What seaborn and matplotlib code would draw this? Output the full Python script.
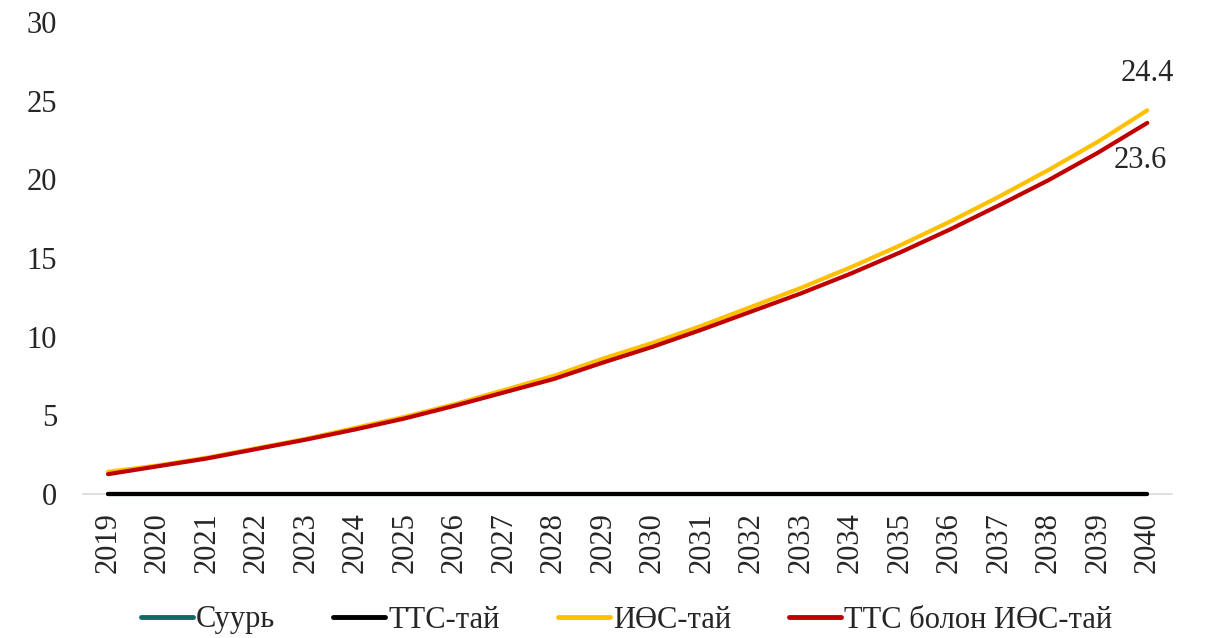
import numpy as np
import pandas as pd
import matplotlib
matplotlib.use("Agg")
import matplotlib.pyplot as plt
import seaborn as sns

years = [str(y) for y in range(2019, 2041)]
suuri = [0.0] * 22
tts = [0.0] * 22
ios = [1.4, 1.8, 2.3, 2.9, 3.5, 4.2, 4.9, 5.7, 6.6, 7.5, 8.6, 9.6,
       10.7, 11.9, 13.1, 14.4, 15.8, 17.3, 18.9, 20.6, 22.4, 24.4]
tts_ios = [1.25, 1.75, 2.25, 2.85, 3.45, 4.1, 4.8, 5.6, 6.45, 7.3, 8.35, 9.35,
           10.45, 11.6, 12.75, 14.0, 15.35, 16.8, 18.35, 19.95, 21.7, 23.6]

series = ["Суурь", "ТТС-тай", "ИӨС-тай", "ТТС болон ИӨС-тай"]
colors = ["#0F6B63", "#000000", "#FFC000", "#C00000"]

df = pd.DataFrame({"year": years, "Суурь": suuri, "ТТС-тай": tts,
                   "ИӨС-тай": ios, "ТТС болон ИӨС-тай": tts_ios})
long = df.melt(id_vars="year", var_name="series", value_name="value")
long["x"] = long["year"].map({y: i for i, y in enumerate(years)})

sns.set_style("white")
plt.rcParams["font.family"] = ["Liberation Serif", "DejaVu Serif"]

fig, ax = plt.subplots(figsize=(12.07, 6.38), dpi=100)
sns.lineplot(data=long, x="x", y="value", hue="series", hue_order=series,
             palette=colors, linewidth=3, ax=ax, legend=False)
for ln in ax.lines:
    ln.set_clip_on(False)
    ln.set_solid_capstyle("round")

ax.set_xlim(-0.5, len(years) - 0.5)
ax.set_ylim(0, 30)
ax.set_xticks(range(len(years)))
ax.set_xticklabels(years, rotation=90, fontsize=22)
ax.set_yticks(range(0, 31, 5))
ax.tick_params(axis="y", labelsize=22, length=0, pad=19)
ax.tick_params(axis="x", length=0, pad=13)
ax.set_xlabel("")
ax.set_ylabel("")
for s in ["top", "right", "left"]:
    ax.spines[s].set_visible(False)
ax.spines["bottom"].set_color("#d9d9d9")
ax.spines["bottom"].set_linewidth(1.2)
ax.spines["bottom"].set_zorder(0)

ax.text(len(years) - 1, ios[-1] + 1.4, f"{ios[-1]:.1f}", ha="center",
        va="bottom", fontsize=22)
ax.text(len(years) - 1.15, tts_ios[-1] - 1.5, f"{tts_ios[-1]:.1f}", ha="center",
        va="top", fontsize=22)

handles = [plt.Line2D([0], [0], color=c, lw=3.5) for c in colors]
fig.legend(handles, series, loc="center", bbox_to_anchor=(0.519, 1 - 620 / 638),
           ncol=4, frameon=False, fontsize=22, handlelength=1.7,
           handletextpad=0.1, columnspacing=1.9)

fig.subplots_adjust(left=0.069, right=0.971, top=0.965, bottom=0.226)
fig.savefig("out.png", dpi=100)
